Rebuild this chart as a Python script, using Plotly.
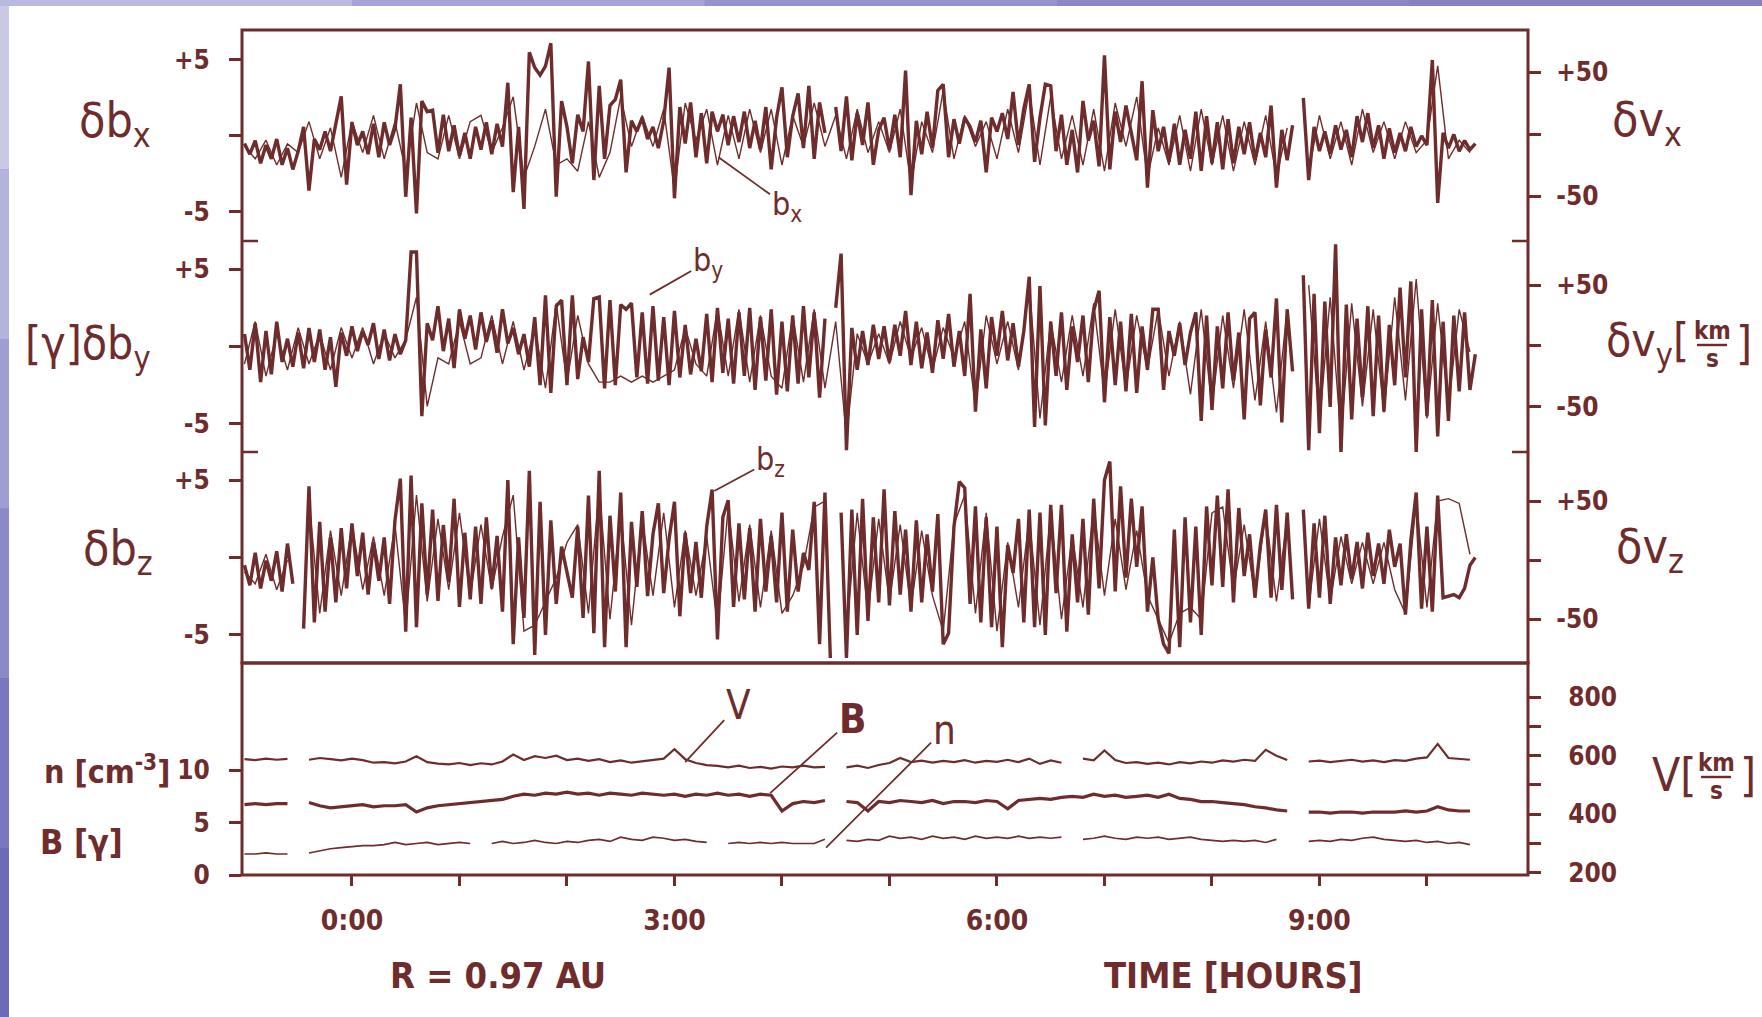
import plotly.graph_objects as go

# ---------------- data ----------------
# fluctuation panels: magnetic field components (gamma), sampled every 0.05 h from -1.00 h
bx = [-0.5, -1.2, -0.3, -1.8, -0.6, -1.5, -0.2, -1.9, -0.8, -2.2, -1.0, 0.6, -3.6, -0.2, -0.9, 0.3, -1.0, 0.8, 2.6, -3.2,
      0.9, -0.6, 0.3, -1.2, 0.8, -1.4, 0.9, -0.6, 0.5, 3.4, -4.0, 1.2, -5.1, 2.3, 1.6, 1.7, -1.1, 1.4, -1.0, 0.7,
      -1.3, 0.2, -1.5, 0.6, -0.9, 0.9, -1.2, 0.8, -0.7, 3.5, -3.7, 0.6, -4.8, 5.5, 4.5, 4.0, 4.6, 6.1, -4.0, 2.3,
      0.6, -1.8, 1.4, 0.3, 4.9, -2.9, 3.3, -1.5, 2.0, 2.4, 3.7, -2.4, 1.0, 0.3, 1.2, -0.2, 0.6, -0.8, 1.0, 4.5,
      -4.1, 1.9, -0.5, 2.2, -1.4, 1.5, -1.8, 1.6, 0.3, 1.4, -0.6, 1.3, -0.4, 1.6, -0.8, 1.0, -0.9, 1.9, -2.2, 1.2,
      3.2, -1.4, 1.3, 2.8, -0.8, 3.3, -1.5, 2.2, 0.2, None, 1.9, -1.0, 2.6, -1.6, 1.5, -0.6, 2.2, -1.9, 0.4, 1.2,
      -0.9, 1.4, -1.4, 4.3, -3.9, 1.0, -1.2, 1.6, -0.8, 3.0, 3.4, -1.4, 1.1, -0.5, 1.2, 0.6, -0.4, 1.0, -2.4, 1.2,
      0.3, 1.5, -0.2, 2.9, -0.6, 1.8, 3.4, -1.7, 1.2, 3.4, 3.3, -1.0, 1.4, -1.9, 0.4, -2.4, 2.3, -0.3, 1.0, -2.0,
      5.3, -2.2, 1.6, -0.4, 2.0, 0.2, -1.6, 3.6, -3.4, 1.7, -1.0, 0.6, -1.7, 0.8, -1.9, 0.4, -1.5, 1.6, -2.3, 1.3,
      -1.8, 0.9, -2.2, 1.1, -1.8, 0.6, -1.2, 0.9, -1.6, 0.2, -1.4, 2.0, -3.4, 0.4, -1.6, 0.7, None, 2.5, -2.9, 0.6,
      -1.0, 0.3, -1.2, 0.7, -0.9, 0.4, -1.4, 1.3, -0.4, 1.5, -0.8, 0.7, -1.5, 0.5, -1.1, 0.2, -1.0, 0.6, -0.7, 0.0,
      -0.6, 5.0, -4.4, 0.2, -0.8, 0.1, -1.0, -0.3, -0.9, -0.5]

by = [0.8, -1.5, 1.5, -2.3, 1.0, -1.8, 1.6, -1.0, 0.5, -1.3, 0.9, -1.4, 1.2, -1.0, 1.1, -1.5, 0.6, -2.6, 0.9, -0.6,
      1.3, -0.3, 1.0, 0.1, 1.5, -0.8, 1.1, -0.9, 0.8, -0.5, 0.4, 6.1, 6.1, -4.5, 1.5, 0.4, 2.6, -0.3, 1.8, -1.4,
      2.4, 0.5, 2.0, -0.2, 2.2, 0.3, 1.7, -0.4, 2.4, 0.2, 1.2, -0.5, 0.8, -1.3, 1.9, -2.5, 3.3, -3.0, 2.6, 3.0,
      -2.5, 3.3, -2.1, 0.6, -1.0, 3.1, 3.2, -2.7, 3.0, -2.5, 2.7, 2.4, 2.8, -2.0, 2.2, -2.4, 2.6, -2.2, 1.9, -2.5,
      2.3, -2.0, 1.4, -1.8, 0.5, -1.6, 2.1, -2.3, 2.5, -1.7, 1.8, -2.4, 2.2, -1.9, 2.5, -2.8, 1.9, -2.2, 2.4, -3.1,
      1.6, -2.9, 2.0, -2.4, 2.6, -2.0, 2.2, -3.3, 1.8, None, 2.5, 6.0, -6.7, 1.2, -1.5, 1.0, -1.2, 1.4, -0.8, 1.3,
      -1.0, 1.4, -0.6, 2.3, -1.2, 1.6, -1.4, 0.9, -1.7, 1.7, -0.8, 2.1, -1.3, 1.0, -1.9, 3.4, -4.2, 1.1, -2.7, 1.9,
      -0.6, 2.3, -0.9, 1.5, -1.3, 1.0, 4.5, -5.2, 3.9, -5.1, 1.6, -1.9, 2.2, -2.8, 1.3, -1.0, 2.0, -2.3, 2.3, 3.6,
      -3.6, 1.9, -2.5, 1.6, -2.9, 2.1, -3.0, 1.3, -1.5, 2.4, 2.4, -2.8, 1.0, -0.6, 1.5, -1.2, 0.9, 2.2, -4.8, 2.0,
      -4.1, 1.3, -2.7, 2.2, -2.2, 0.9, -4.7, 1.8, 2.2, -3.8, 1.1, -2.0, 3.1, -4.9, 2.4, -1.6, None, 4.6, -6.7, 3.4,
      -5.6, 2.9, -3.9, 6.6, -6.9, 2.7, -4.7, 1.8, -3.3, 2.6, -4.5, 2.0, -4.2, 1.4, -2.5, 3.8, -2.0, 4.2, -6.8, 2.4,
      -4.5, 3.0, -5.8, 1.6, -4.8, 2.0, -2.9, 2.2, -2.8, -0.5]

bz = [-0.5, -1.8, 0.3, -2.0, -0.2, -1.5, 0.4, -2.2, 0.9, -1.7, None, -4.6, 4.6, -4.2, 2.3, -3.5, 1.3, -2.9, 1.9, -2.0,
      2.2, -1.2, 1.6, -2.4, 1.0, -1.5, 1.3, -3.0, 2.4, 5.1, -4.8, 5.3, -4.5, 3.5, -2.4, 3.1, -2.8, 2.1, -1.6, 3.8,
      -3.2, 1.6, -2.7, 2.0, -3.0, 2.6, -2.0, 1.4, -3.5, 5.0, -5.6, 1.3, -3.9, 5.6, -6.3, 3.6, -5.0, 2.4, -3.0, 0.7,
      -1.0, -2.6, 2.0, -3.9, 4.0, -4.9, 5.6, -5.8, 2.7, -2.2, 4.2, -5.8, 2.3, -1.9, 3.0, -2.5, 1.5, 3.5, -2.3, 1.2,
      3.6, -3.8, 1.6, -2.3, 1.0, -2.6, 2.0, 4.4, -5.3, 2.6, 3.7, -3.2, 2.2, -2.7, 1.9, -3.5, 2.5, -2.2, 1.4, -2.9,
      2.9, -3.5, 1.8, -2.2, 0.3, -0.8, 3.6, -5.6, 4.2, -6.5, None, 2.9, -6.5, 3.1, -5.0, 3.8, -4.1, 2.6, -2.9, 4.4,
      -3.1, 3.0, -2.4, 1.8, -3.5, 2.4, -2.9, 1.5, -2.2, 2.8, -5.6, -4.9, 2.0, 4.9, 4.5, -3.0, 3.3, -4.2, 2.6, -4.5,
      2.0, -5.8, 0.8, -1.0, 2.5, -4.2, 3.1, -4.5, 2.9, -5.0, 3.4, -2.3, 3.4, -4.8, 1.5, -2.9, 2.5, -3.7, 3.8, -2.0,
      5.0, 6.2, -2.2, 4.6, -1.3, 3.8, -0.6, 3.3, -3.5, 0.0, -4.0, -5.6, -6.2, 1.8, -5.8, 2.6, -4.2, 2.0, -5.0, 3.3,
      -1.8, 4.0, -1.9, 4.4, -2.9, 3.2, -1.2, 1.5, -2.6, 0.8, 3.1, -2.6, 3.4, -2.1, 2.9, -2.7, None, 3.1, -3.3, 2.2,
      -2.6, 2.7, -3.0, 1.3, -1.8, 1.5, -1.4, 1.0, -2.0, 1.6, -1.2, 0.9, -1.7, 1.8, -0.6, 0.9, -3.7, 1.1, 4.2, -3.3,
      2.0, -3.5, 4.0, -2.6, -2.5, -2.4, -2.6, -2.0, -0.5, 0.0]

# velocity components (km/s), sampled every 0.1 h from -1.0 h
vx = [-10, -20, -5, -25, -8, -15, 10, -20, 5, -35,
      10, -15, 15, -20, 10, -30, 25, -15, -20, 15,
      -20, 10, 15, -15, 5, 30, -35, -10, 20, -25,
      -20, -30, 10, -35, -15, 30, -10, 15, -10, 20,
      -45, 25, -5, 20, -25, 15, -20, 20, -15, 20,
      -25, 15, -10, 25, -10, 15, -20, 20, -15, 10,
      -15, 20, -40, 10, -15, 35, -20, 15, -10, 10,
      -20, 20, -15, 35, -25, 30, -20, 15, -25, 20,
      -30, 25, -10, 30, -35, 5, -25, 15, -30, 20,
      -25, 15, -30, 10, -25, 15, -35, 5, None, -30,
      15, -20, 10, -25, 20, -15, 10, -20, 10, -15,
      -5, 55, -20, -5, -15]

vy = [-15, 20, -25, 10, -20, 15, -15, 10, -20, 15,
      -10, 15, -15, 10, -10, 5, 40, -50, -10, -15,
      20, -15, -10, 25, -15, 20, -20, 15, -35, 35,
      -30, 25, -15, -30, -30, -25, -30, -25, -30, -25,
      -20, 15, -15, -25, 30, -25, 30, -30, 25, -25,
      -35, 25, -30, 30, -35, 20, -75, 10, -15, 10,
      -15, 20, -10, 15, -20, 15, -10, 20, -50, 25,
      -15, 20, -20, 50, -60, 20, -30, 25, -25, 35,
      -40, 30, -35, 25, -20, 30, -25, 20, -40, 30,
      -50, 25, -35, 30, -45, 20, -55, 30, None, 50,
      -65, 40, -75, 35, -50, 30, -55, 40, -45, 55,
      -60, 35, -50, 30, -5]

vz = [-10, -20, 5, -25, 0, None, 50, -45, 25, -30,
      30, -25, 20, -30, 30, -55, 55, -35, 35, -25,
      40, -30, 30, -25, 20, 55, -60, -55, -35, -15,
      15, 30, -45, 60, -50, 40, -55, 35, -30, 40,
      -40, 25, -30, 20, -55, 45, -35, 30, -40, 25,
      -45, -30, -5, 45, 50, None, -60, 40, -45, 35,
      -35, 30, -40, 25, -30, -60, 30, 55, -45, 40,
      -60, 15, -40, 35, -55, 40, -50, 20, -40, 45,
      -30, 35, -25, 25, -30, -50, -70, -45, -40, -50,
      40, 45, -25, 30, -30, 40, -35, 35, None, -40,
      35, -35, 20, -20, 15, -20, 15, -25, -45, 50,
      -40, 50, 52, 48, 5]

# bulk plasma parameters, sampled every 0.1 h from -1.0 h
V_sw = [588, 585, 590, 586, 589, None, 586, 592, 588, 584,
        590, 585, 576, 578, 574, 580, 598, 578, 573, 570,
        575, 568, 574, 570, 580, 604, 585, 598, 592, 600,
        585, 590, 582, 588, 578, 584, 576, 580, 586, 590,
        622, 588, 575, 568, 565, 560, 566, 558, 562, 556,
        563, 560, 566, 560, 562, None, 560, 566, 558, 568,
        575, 592, 578, 583, 576, 582, 578, 585, 576, 582,
        579, 586, 578, 590, 572, 584, 576, None, 590, 584,
        618, 585, 575, 578, 572, 576, 570, 578, 574, 580,
        576, 584, 580, 586, 582, 620, 600, 585, None, 580,
        583, 578, 582, 586, 580, 584, 578, 585, 582, 590,
        594, 640, 592, 588, 586]

B_mag = [6.7, 6.8, 6.7, 6.8, 6.8, None, 6.9, 6.6, 6.4, 6.5,
         6.6, 6.7, 6.5, 6.6, 6.6, 6.7, 6.0, 6.4, 6.6, 6.7,
         6.8, 6.9, 7.0, 7.1, 7.2, 7.5, 7.7, 7.6, 7.8, 7.7,
         7.9, 7.7, 7.8, 7.6, 7.8, 7.7, 7.6, 7.8, 7.7, 7.6,
         7.7, 7.5, 7.7, 7.6, 7.8, 7.6, 7.7, 7.5, 7.7, 7.6,
         6.1, 6.8, 7.0, 6.9, 7.1, None, 7.0, 6.9, 6.1, 7.0,
         6.9, 7.1, 7.0, 6.9, 7.1, 6.8, 7.0, 7.0, 6.9, 7.1,
         7.0, 6.3, 7.1, 7.2, 7.3, 7.2, 7.4, 7.5, 7.4, 7.7,
         7.5, 7.6, 7.4, 7.5, 7.6, 7.4, 7.7, 7.3, 7.2, 7.0,
         7.0, 6.9, 6.8, 6.7, 6.5, 6.4, 6.2, 6.1, None, 6.0,
         6.0, 5.9, 6.0, 6.0, 5.9, 6.0, 6.0, 6.0, 6.1, 6.0,
         6.1, 6.5, 6.2, 6.1, 6.1]

n_p = [2.0, 2.0, 2.1, 2.0, 2.0, None, 2.1, 2.3, 2.5, 2.6,
       2.7, 2.8, 2.8, 2.9, 3.1, 2.9, 3.0, 3.1, 2.9, 3.0,
       3.1, 3.0, None, 3.0, 3.2, 3.0, 3.1, 3.3, 3.1, 3.0,
       3.2, 3.1, 3.3, 3.4, 3.2, 3.6, 3.4, 3.3, 3.6, 3.5,
       3.3, 3.4, 3.2, 3.1, None, 3.0, 3.1, 3.0, 3.1, 3.0,
       3.1, 3.0, 3.0, 3.0, 3.4, None, 3.3, 3.2, 3.4, 3.3,
       3.7, 3.5, 3.6, 3.4, 3.7, 3.5, 3.6, 3.4, 3.7, 3.5,
       3.6, 3.5, 3.7, 3.5, 3.6, 3.5, 3.6, None, 3.4, 3.5,
       3.7, 3.5, 3.4, 3.6, 3.5, 3.6, 3.4, 3.5, 3.6, 3.4,
       3.3, 3.2, 3.3, 3.2, 3.3, 3.1, 3.4, None, None, 3.2,
       3.3, 3.2, 3.4, 3.3, 3.5, 3.6, 3.4, 3.3, 3.2, 3.3,
       3.1, 3.2, 3.0, 3.1, 2.9]

hour_label_vals = [0, 3, 6, 9]
hour_labels = ["0:00", "3:00", "6:00", "9:00"]
hour_minor = [1, 2, 4, 5, 7, 8, 10]
db_ticks, db_labels = [-5, 5], ["-5", "+5"]
dv_ticks, dv_labels = [-50, 50], ["-50", "+50"]
nb_ticks, nb_labels = [0, 5, 10], ["0", "5", "10"]
V_ticks, V_labels = [200, 400, 600, 800], ["200", "400", "600", "800"]
V_minor = [300, 500, 700]

t_b = [round(-1.0 + 0.05 * i, 2) for i in range(len(bx))]
t_v = [round(-1.0 + 0.1 * i, 2) for i in range(len(vx))]

# ---------------- styling / layout ----------------
C = "#6e2c2c"
FONT = "DejaVu Sans Condensed, Liberation Sans Narrow, DejaVu Sans, sans-serif"
L, R, T, BOT = 242, 1528, 30, 875
W, H = R - L, BOT - T
DIV = 663
P1B, P2B = 241, 452


def px(x):
    return (x - L) / W


def py(y):
    return (BOT - y) / H


fig = go.Figure()


def add(x, y, yax, width):
    fig.add_trace(go.Scatter(x=x, y=y, xaxis="x", yaxis=yax, mode="lines",
                             line=dict(color=C, width=width), showlegend=False,
                             hoverinfo="skip"))


add(t_v, vx, "y2", 1.4)
add(t_b, bx, "y", 3.4)
add(t_v, vy, "y4", 1.4)
add(t_b, by, "y3", 3.4)
add(t_v, vz, "y6", 1.4)
add(t_b, bz, "y5", 3.4)
add(t_v, V_sw, "y8", 2.2)
add(t_v, B_mag, "y7", 3.2)
add(t_v, n_p, "y7", 1.7)

tickfont = dict(family=FONT, size=26, color=C, weight="bold")
TK = dict(ticks="outside", ticklen=12, tickwidth=2.5, tickcolor=C)


def yleft(dom, rng, vals, text, minor_vals, stand=14):
    return dict(domain=dom, range=rng, tickvals=vals, ticktext=text, **TK,
                minor=dict(tickvals=minor_vals, **TK),
                showgrid=False, zeroline=False, showline=False, anchor="x", side="left",
                tickfont=tickfont, ticklabelstandoff=stand, fixedrange=True)


def yright(over, rng, vals, text, minor_vals, stand=10):
    return dict(overlaying=over, range=rng, tickvals=vals, ticktext=text, **TK,
                minor=dict(tickvals=minor_vals, **TK),
                showgrid=False, zeroline=False, showline=False, anchor="x", side="right",
                tickfont=tickfont, ticklabelstandoff=stand, fixedrange=True)


d1 = [py(P1B), 1]
d2 = [py(P2B), py(P1B)]
d3 = [py(DIV), py(P2B)]
d4 = [0, py(DIV)]

layout = dict(
    width=1762, height=1017,
    margin=dict(l=L, r=1762 - R, t=T, b=1017 - BOT, pad=0),
    paper_bgcolor="#8f8bc8", plot_bgcolor="white",
    font=dict(family=FONT, color=C),
    xaxis=dict(domain=[0, 1], range=[-1.023, 10.94], anchor="y7", tickvals=hour_label_vals,
               ticktext=hour_labels, ticks="outside", ticklen=10, tickwidth=2.5, tickcolor=C,
               minor=dict(tickvals=hour_minor, ticks="outside", ticklen=10, tickwidth=2.5, tickcolor=C),
               showgrid=False, zeroline=False, showline=False,
               tickfont=dict(family=FONT, size=28, color=C, weight="bold"), ticklabelstandoff=10,
               fixedrange=True),
    yaxis=yleft(d1, [-6.91, 6.97], db_ticks, db_labels, [0]),
    yaxis2=yright("y", [-86.3, 83.9], dv_ticks, dv_labels, [0]),
    yaxis3=yleft(d2, [-6.81, 6.81], db_ticks, db_labels, [0]),
    yaxis4=yright("y3", [-87.6, 86.4], dv_ticks, dv_labels, [0]),
    yaxis5=yleft(d3, [-6.82, 6.82], db_ticks, db_labels, [0]),
    yaxis6=yright("y5", [-87, 91.5], dv_ticks, dv_labels, [0]),
    yaxis7=yleft(d4, [0, 20.2], nb_ticks, nb_labels, []),
    yaxis8=yright("y7", [193, 916], V_ticks, V_labels, V_minor, stand=22),
)
fig.update_layout(**layout)

shapes = []
# page background: white sheet on the purple slide
shapes.append(dict(type="rect", xref="paper", yref="paper", x0=px(9), x1=px(1762),
                   y0=py(1017), y1=py(6), fillcolor="white", line=dict(width=0), layer="below"))
left_cols = ["#c9c9e6", "#b4b3de", "#9f9dd4", "#8c89cb", "#7a77c0", "#6d6ab8"]
seg = 1017 / len(left_cols)
for i, col in enumerate(left_cols):
    shapes.append(dict(type="rect", xref="paper", yref="paper", x0=px(0), x1=px(9),
                       y0=py(seg * (i + 1)), y1=py(seg * i), fillcolor=col,
                       line=dict(width=0), layer="below"))
top_cols = ["#b9b8e0", "#a5a3d7", "#9593ce", "#8a87c8", "#8582c4"]
segx = 1762 / len(top_cols)
for i, col in enumerate(top_cols):
    shapes.append(dict(type="rect", xref="paper", yref="paper", x0=px(segx * i), x1=px(segx * (i + 1)),
                       y0=py(6), y1=py(0), fillcolor=col, line=dict(width=0), layer="below"))
# frames
shapes.append(dict(type="rect", xref="paper", yref="paper", x0=0, x1=1, y0=py(DIV), y1=1,
                   line=dict(color=C, width=3)))
shapes.append(dict(type="rect", xref="paper", yref="paper", x0=0, x1=1, y0=0, y1=py(DIV),
                   line=dict(color=C, width=3)))
# inner boundary ticks between the fluctuation panels
for yb in (P1B, P2B):
    shapes.append(dict(type="line", xref="paper", yref="paper", x0=0, x1=px(L + 16),
                       y0=py(yb), y1=py(yb), line=dict(color=C, width=2.5)))
    shapes.append(dict(type="line", xref="paper", yref="paper", x0=px(R - 16), x1=1,
                       y0=py(yb), y1=py(yb), line=dict(color=C, width=2.5)))
# fraction bars km/s
shapes.append(dict(type="line", xref="paper", yref="paper", x0=px(1697), x1=px(1727),
                   y0=py(345), y1=py(345), line=dict(color=C, width=2.4)))
shapes.append(dict(type="line", xref="paper", yref="paper", x0=px(1701), x1=px(1731),
                   y0=py(777), y1=py(777), line=dict(color=C, width=2.4)))
fig.update_layout(shapes=shapes)

ann = []


def label(text, x, y, size, xanchor="center", weight="normal"):
    ann.append(dict(text=text, x=px(x), y=py(y), xref="paper", yref="paper", showarrow=False,
                    xanchor=xanchor, yanchor="middle",
                    font=dict(family=FONT, size=size, color=C, weight=weight)))


label("δb<sub>x</sub>", 115, 124, 48)
label("[γ]δb<sub>y</sub>", 88, 346, 46)
label("δb<sub>z</sub>", 118, 551, 48)
label("δv<sub>x</sub>", 1647, 122, 48)
label("δv<sub>y</sub>[", 1691, 343, 46, xanchor="right")
label("km", 1712, 331, 24, weight="bold")
label("s", 1712, 359, 24, weight="bold")
label("]", 1744, 343, 46)
label("δv<sub>z</sub>", 1650, 549, 48)
label("V[", 1698, 775, 46, xanchor="right")
label("km", 1716, 763, 24, weight="bold")
label("s", 1716, 791, 24, weight="bold")
label("]", 1748, 775, 46)
label("n [cm<sup>-3</sup>]", 172, 770, 32, xanchor="right", weight="bold")
label("B [γ]", 38, 842, 34, xanchor="left", weight="bold")
label("R = 0.97 AU", 498, 975, 36, weight="bold")
label("TIME [HOURS]", 1233, 975, 36, weight="bold")


def pointer(text, x, y, yref, ax, ay, size, weight="normal"):
    ann.append(dict(text=text, x=x, y=y, xref="x", yref=yref, showarrow=True, arrowhead=0,
                    arrowwidth=1.8, arrowcolor=C, ax=ax, ay=ay, standoff=0,
                    font=dict(family=FONT, size=size, color=C, weight=weight)))


pointer("b<sub>x</sub>", 3.41, -1.4, "y", 68, 49, 32)
pointer("b<sub>y</sub>", 2.77, 3.35, "y3", 58, -33, 32)
pointer("b<sub>z</sub>", 3.37, 4.3, "y5", 56, -30, 32)
pointer("V", 3.10, 578, "y8", 53, -57, 40)
pointer("B", 3.89, 7.8, "y7", 82, -74, 40, weight="bold")
pointer("n", 4.41, 2.6, "y7", 118, -118, 40)

fig.update_layout(annotations=ann)
fig.write_html("out.html")
